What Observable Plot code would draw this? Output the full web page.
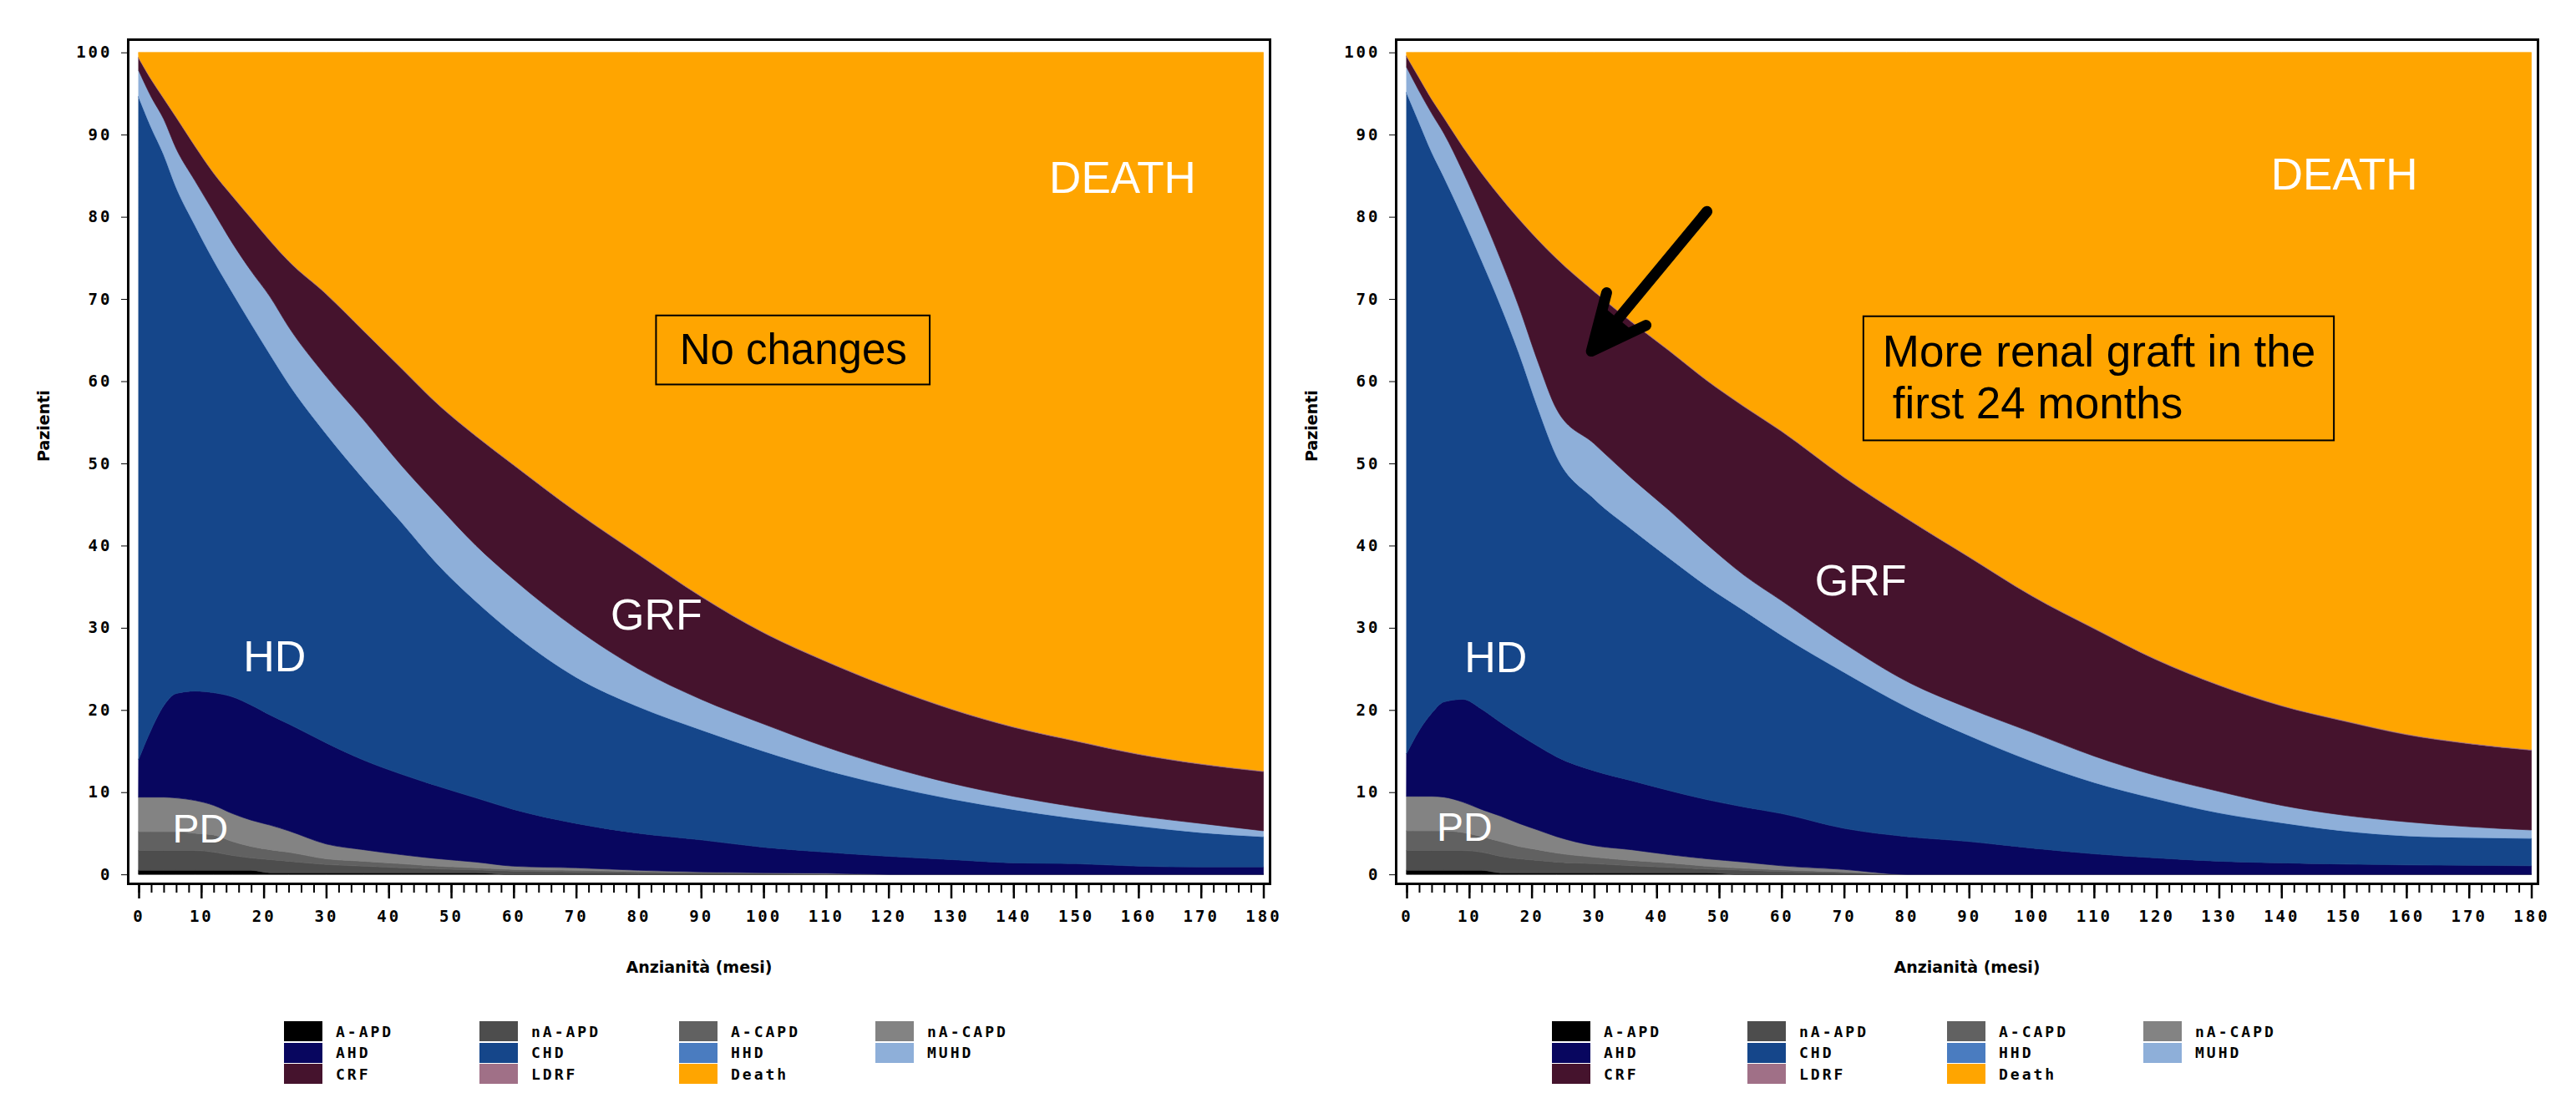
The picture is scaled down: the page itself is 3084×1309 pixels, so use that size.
<!DOCTYPE html>
<html>
<head>
<meta charset="utf-8">
<script src="https://cdn.jsdelivr.net/npm/d3@7"></script>
<script src="https://cdn.jsdelivr.net/npm/@observablehq/plot@0.6"></script>
<style>
  html, body { margin: 0; padding: 0; background: #ffffff; }
  body { width: 3084px; height: 1309px; position: relative; overflow: hidden; font-family: "Liberation Sans", Arial, sans-serif; }
  .panel { position: absolute; top: 0; }
  .panel svg { background: transparent !important; overflow: visible; }
  .panel g[aria-label$="tick label"] text { letter-spacing: 3px; }
  .legend-item { position: absolute; display: flex; align-items: center; height: 24px; }
  .legend-sw { width: 46px; height: 24px; }
  .legend-lab { font-family: "DejaVu Sans Mono", monospace; font-weight: bold; font-size: 18px; letter-spacing: 3px; margin-left: 16px; color: #000; }
</style>
</head>
<body>
<div id="root"></div>
<script>
// ---------- data (percent of patients) ----------
const months = [0,2,4,6,9,12,15,18,21,24,30,36,42,48,54,60,70,80,90,100,110,120,130,140,150,160,170,180];
const seriesNames = ["A-APD","nA-APD","A-CAPD","nA-CAPD","AHD","CHD","HHD","MUHD","CRF","LDRF","Death"];
const seriesColors = ["#000000","#4d4d4d","#616161","#838383","#08065f","#15468a","#4a7cc0","#8eafd9","#45132d","#a07087","#ffa500"];
const xTicks = [0,10,20,30,40,50,60,70,80,90,100,110,120,130,140,150,160,170,180];
const yTicks = [0,10,20,30,40,50,60,70,80,90,100];

// Left panel: "No changes"
const leftAAPD   = [0.5,0.5,0.5,0.5,0.5,0.5,0.5,0.5,0.2,0.2,0.2,0.2,0.2,0.2,0.2,0,0,0,0,0,0,0,0,0,0,0,0,0];
const leftNAAPD  = [2.4,2.4,2.4,2.4,2.4,2.2,1.8,1.5,1.6,1.4,1.0,0.8,0.6,0.45,0.35,0.4,0.3,0.2,0.15,0.1,0,0,0,0,0,0,0,0];
const leftACAPD  = [2.3,2.3,2.3,2.3,2.1,2.1,1.7,1.4,1.2,1.1,0.7,0.6,0.5,0.35,0.25,0.2,0.2,0.15,0.1,0.05,0.05,0,0,0,0,0,0,0];
const leftNACAPD = [4.2,4.2,4.2,4.1,4.0,3.6,3.4,3.2,3.0,2.6,1.8,1.4,1.1,0.9,0.7,0.4,0.3,0.15,0.05,0.05,0.1,0,0,0,0,0,0,0];
const leftAHD    = [4.6,8.2,11.1,12.7,13.3,13.7,14.2,14.0,13.4,13.0,12.3,10.9,9.8,8.8,7.8,6.9,5.4,4.5,3.9,3.1,2.55,2.2,1.8,1.4,1.3,1.0,0.9,0.9];
const leftCHD    = [80.6,73.3,67.1,61.6,56.7,52.6,49.2,46.4,43.9,41.4,37.6,34.2,30.7,26.9,23.9,21.4,17.8,15.4,13.4,11.7,10.0,8.6,7.4,6.5,5.5,4.9,4.2,3.7];
const leftHHD    = [0,0,0,0,0,0,0,0,0,0,0,0,0,0,0,0,0,0,0,0,0,0,0,0,0,0,0,0];
const leftMUHD   = [3.2,3.7,4.3,4.7,5.4,5.9,6.0,6.4,7.0,6.9,7.0,7.2,6.9,7.2,6.8,6.6,5.9,4.6,3.7,3.3,2.8,2.3,1.9,1.6,1.4,1.2,1.1,0.7];
const leftCRF    = [1.5,2.1,2.5,3.8,4.2,4.7,5.7,6.4,6.8,8.0,10.0,10.8,11.8,12.3,13.3,13.9,14.2,13.9,12.5,11.1,10.4,9.7,9.0,8.4,8.0,7.5,7.2,7.2];
const leftLDRF   = [0.1,0.1,0.1,0.1,0.1,0.1,0.1,0.1,0.1,0.1,0.1,0.1,0.1,0.1,0.1,0.1,0.1,0.1,0.1,0.1,0.1,0.1,0.1,0.1,0.1,0.1,0.1,0.1];
const leftDeath  = [0.6,3.2,5.5,7.8,11.3,14.6,17.4,20.1,22.8,25.3,29.3,33.8,38.3,42.8,46.6,50.1,55.8,61.0,66.1,70.5,74.0,77.1,79.8,82.0,83.7,85.3,86.5,87.4];

// Right panel: "More renal graft in the first 24 months"
const rightAAPD   = [0.5,0.5,0.5,0.5,0.5,0.5,0.2,0.2,0.2,0.2,0.2,0.2,0.2,0.2,0,0,0,0,0,0,0,0,0,0,0,0,0,0];
const rightNAAPD  = [2.4,2.4,2.4,2.4,2.4,2.2,2.0,1.7,1.5,1.3,1.1,0.85,0.65,0.45,0.5,0.35,0.2,0,0,0,0,0,0,0,0,0,0,0];
const rightACAPD  = [2.4,2.4,2.4,2.4,2.2,1.9,1.8,1.5,1.3,1.1,0.8,0.65,0.55,0.35,0.25,0.21,0.1,0,0,0,0,0,0,0,0,0,0,0];
const rightNACAPD = [4.2,4.2,4.2,4.1,3.7,3.3,3.1,2.8,2.4,2.0,1.4,1.3,1.0,0.9,0.75,0.49,0.3,0,0,0,0,0,0,0,0,0,0,0];
const rightAHD    = [5.2,8.0,10.1,11.6,12.5,12.2,11.4,10.8,10.2,9.7,9.1,8.4,7.8,7.2,6.7,6.35,5.0,4.6,4.0,3.2,2.5,2.0,1.6,1.4,1.25,1.15,1.1,1.05];
const rightCHD    = [80.4,74.0,68.3,63.8,58.6,54.6,50.8,46.4,41.2,36.6,33.1,30.6,28.3,26.0,23.9,21.7,19.0,15.8,12.9,10.6,8.7,7.2,5.9,4.9,4.05,3.55,3.4,3.35];
const rightHHD    = [0,0,0,0,0,0,0,0,0,0,0,0,0,0,0,0,0,0,0,0,0,0,0,0,0,0,0,0];
const rightMUHD   = [3.1,3.8,4.7,5.3,5.6,5.7,5.6,5.6,5.6,5.7,6.7,6.2,5.8,5.1,4.3,4.2,3.5,3.1,3.3,3.5,3.2,2.8,2.6,2.1,1.9,1.7,1.3,1.0];
const rightCRF    = [1.3,1.6,1.7,1.9,3.0,4.9,7.5,10.7,14.8,18.3,18.5,19.0,19.4,19.9,20.5,20.6,20.2,19.8,18.4,16.6,15.5,14.1,12.9,12.1,11.45,10.6,10.1,9.7];
const rightLDRF   = [0.1,0.1,0.1,0.1,0.1,0.1,0.1,0.1,0.1,0.1,0.1,0.1,0.1,0.1,0.1,0.1,0.1,0.1,0.1,0.1,0.1,0.1,0.1,0.1,0.1,0.1,0.1,0.1];
const rightDeath  = [0.4,3.0,5.6,7.9,11.4,14.6,17.5,20.2,22.7,25.0,29.0,32.7,36.2,39.8,43.0,46.0,51.6,56.6,61.3,66.0,70.0,73.8,76.9,79.4,81.25,82.9,84.0,84.8];

// annotations (data units: months, percent)
const leftLabels  = [
  {text: "DEATH", x: 157.4, y: 84.7, size: 53},
  {text: "GRF",   x: 82.8,  y: 31.5, size: 52},
  {text: "HD",    x: 21.7,  y: 26.4, size: 52},
  {text: "PD",    x: 9.8,   y: 5.5,  size: 48}
];
const leftBox     = [{x1: 82.8, x2: 126.6, y1: 59.6, y2: 68.0}];
const leftBoxText = [{text: "No changes", x: 104.7, y: 63.8, size: 51, anchor: "middle"}];

const rightLabels = [
  {text: "DEATH", x: 150.0, y: 85.1, size: 53},
  {text: "GRF",   x: 72.6,  y: 35.7, size: 52},
  {text: "HD",    x: 14.2,  y: 26.3, size: 52},
  {text: "PD",    x: 9.2,   y: 5.7,  size: 48}
];
const rightBox     = [{x1: 73.1, x2: 148.4, y1: 52.8, y2: 67.9}];
const rightBoxText = [
  {text: "More renal graft in the", x: 76.1, y: 63.6, size: 53, anchor: "start"},
  {text: "first 24 months",         x: 77.7, y: 57.3, size: 53, anchor: "start"}
];
const rightArrow     = [{x1: 48.0, y1: 80.7, x2: 29.5, y2: 63.7}];
const rightArrowHead = [{x: 32.4, y: 66.3, angle: 219.6}];

const xTitle = "Anzianità (mesi)";
const yTitle = "Pazienti";

// ---------- build ----------
function toRows(arrays) {
  const rows = [];
  arrays.forEach((arr, i) => arr.forEach((v, j) => rows.push({month: months[j], series: seriesNames[i], value: v})));
  return rows;
}

const tickFont = {fontFamily: "DejaVu Sans Mono", fontWeight: "bold", fontSize: 19};

function makePanel(arrays, labels, box, boxText, arrow, arrowHead) {
  const rows = toRows(arrays);
  const marks = [
    Plot.areaY(rows, {x: "month", y: "value", fill: "series", stroke: "series", strokeWidth: 0.7, order: seriesNames, curve: "monotone-x"}),
    Plot.axisY({ticks: yTicks, tickSize: 8, tickPadding: 11, label: null, ...tickFont}),
    Plot.axisX({ticks: d3.range(0, 181, 2), tickSize: 11, tickFormat: () => "", label: null, strokeWidth: 2}),
    Plot.axisX({ticks: xTicks, tickSize: 18, tickPadding: 14, label: null, strokeWidth: 2.5, ...tickFont}),
    Plot.frame({stroke: "#000", strokeWidth: 3}),
    Plot.text([xTitle], {frameAnchor: "bottom", dy: 106, text: d => d, fontFamily: "DejaVu Sans", fontWeight: "bold", fontSize: 19, fill: "#000"}),
    Plot.text([yTitle], {frameAnchor: "left", dx: -101, rotate: -90, text: d => d, fontFamily: "DejaVu Sans", fontWeight: "bold", fontSize: 19, fill: "#000"}),
    Plot.text(labels, {x: "x", y: "y", text: "text", fill: "white", fontSize: d => d.size, fontFamily: "Liberation Sans", textAnchor: "middle", lineAnchor: "middle"}),
    Plot.rect(box, {x1: "x1", x2: "x2", y1: "y1", y2: "y2", fill: "none", stroke: "#000", strokeWidth: 2}),
    Plot.text(boxText, {x: "x", y: "y", text: "text", fill: "#000", fontSize: d => d.size, fontFamily: "Liberation Sans", textAnchor: boxText[0].anchor, lineAnchor: "middle"})
  ];
  if (arrow) {
    marks.push(Plot.arrow(arrow, {x1: "x1", y1: "y1", x2: "x2", y2: "y2", stroke: "#000", strokeWidth: 13, headLength: 52, headAngle: 50, strokeLinejoin: "round", strokeLinecap: "round"}));
    marks.push(Plot.dot(arrowHead, {x: "x", y: "y", symbol: "triangle", r: 21.5, rotate: "angle", fill: "#000", stroke: "none"}));
  }
  return Plot.plot({
    width: 1540,
    height: 1200,
    marginLeft: 153,
    marginRight: 20,
    marginTop: 47,
    marginBottom: 142,
    x: {domain: [-1.74, 181]},
    y: {domain: [-1.1, 101.6]},
    color: {domain: seriesNames, range: seriesColors},
    style: {background: "transparent", overflow: "visible"},
    marks
  });
}

function makeLegend(offsetX) {
  const wrap = document.createElement("div");
  const colX = [340, 574, 813, 1048];
  seriesNames.forEach((name, i) => {
    const row = Math.floor(i / 4), col = i % 4;
    const item = document.createElement("div");
    item.className = "legend-item";
    item.style.left = (offsetX + colX[col]) + "px";
    item.style.top = (1223 + row * 25.5) + "px";
    const sw = document.createElement("div");
    sw.className = "legend-sw";
    sw.style.background = seriesColors[i];
    const lab = document.createElement("span");
    lab.className = "legend-lab";
    lab.textContent = name;
    item.appendChild(sw);
    item.appendChild(lab);
    wrap.appendChild(item);
  });
  return wrap;
}

const root = document.getElementById("root");

const leftArrays = [leftAAPD, leftNAAPD, leftACAPD, leftNACAPD, leftAHD, leftCHD, leftHHD, leftMUHD, leftCRF, leftLDRF, leftDeath];
const rightArrays = [rightAAPD, rightNAAPD, rightACAPD, rightNACAPD, rightAHD, rightCHD, rightHHD, rightMUHD, rightCRF, rightLDRF, rightDeath];

const p1 = document.createElement("div");
p1.className = "panel"; p1.style.left = "0px";
p1.appendChild(makePanel(leftArrays, leftLabels, leftBox, leftBoxText, null, null));
root.appendChild(p1);

const p2 = document.createElement("div");
p2.className = "panel"; p2.style.left = "1518px";
p2.appendChild(makePanel(rightArrays, rightLabels, rightBox, rightBoxText, rightArrow, rightArrowHead));
root.appendChild(p2);

root.appendChild(makeLegend(0));
root.appendChild(makeLegend(1518));
</script>
</body>
</html>
